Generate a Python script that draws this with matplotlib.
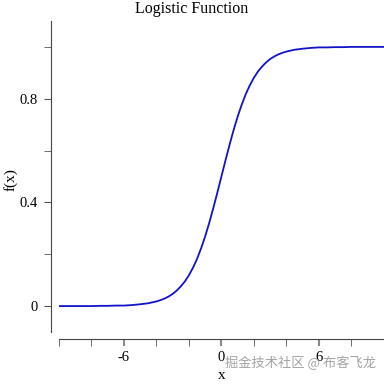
import matplotlib
matplotlib.use("Agg")
import matplotlib.pyplot as plt

# values
x_values = [-10, -9.5, -9, -8.5, -8, -7.5, -7, -6.5, -6, -5.5, -5, -4.5, -4,
            -3.75, -3.5, -3.25, -3, -2.75, -2.5, -2.25, -2, -1.75, -1.5,
            -1.25, -1, -0.75, -0.5, -0.25, 0, 0.25, 0.5, 0.75, 1, 1.25, 1.5,
            1.75, 2, 2.25, 2.5, 2.75, 3, 3.25, 3.5, 3.75, 4,
            4.5, 5, 5.5, 6, 6.5, 7, 7.5, 8, 8.5, 9, 9.5, 10]
f_values = [0.000, 0.000, 0.000, 0.000, 0.000, 0.001, 0.001, 0.002, 0.002,
            0.004, 0.007, 0.011, 0.018,
            0.023, 0.029, 0.037, 0.047, 0.060, 0.076, 0.095, 0.119, 0.148,
            0.182, 0.223, 0.269, 0.321, 0.378, 0.438, 0.500, 0.562, 0.622,
            0.679, 0.731, 0.777, 0.818, 0.852, 0.881, 0.905, 0.924, 0.940,
            0.953, 0.963, 0.971, 0.977, 0.982,
            0.989, 0.993, 0.996, 0.998, 0.998, 0.999, 0.999,
            1.000, 1.000, 1.000, 1.000, 1.000]

x_major = [-6, 0, 6]
x_minor = [-10, -8, -4, -2, 2, 4, 8, 10]
y_major = [0, 0.4, 0.8]
y_minor = [0.2, 0.6, 1.0]

plt.rcParams['font.family'] = ['Liberation Serif', 'DejaVu Serif']

fig = plt.figure(figsize=(3.84, 3.84), dpi=100)
ax = fig.add_axes([0.1536, 0.1354, 0.846, 0.81])

ax.plot(x_values, f_values, color="#1212c8", linewidth=1.3)

ax.set_xlim(-10, 10)
ax.set_ylim(-0.1, 1.1)

for side in ["top", "right"]:
    ax.spines[side].set_visible(False)
ax.spines["left"].set_position(("outward", 6))
ax.spines["bottom"].set_position(("outward", 5))
ax.spines["left"].set_color("#444444")
ax.spines["bottom"].set_color("#444444")

ax.set_xticks(x_major)
ax.set_xticklabels(["-6", "0", "6"])
ax.set_xticks(x_minor, minor=True)
ax.set_yticks(y_major)
ax.set_yticklabels(["0", "0.4", "0.8"])
ax.set_yticks(y_minor, minor=True)

ax.tick_params(which="both", direction="out", length=5, color="#555555",
               labelsize=10.5, pad=4)
ax.tick_params(axis="x", which="major", width=1.5, color="#888888")

# title is centred on the whole figure, not on the axes
fig.text(0.5, 0.955, "Logistic Function", fontsize=11.5, ha="center",
         va="bottom")
ax.set_xlabel("x", fontsize=11)
ax.xaxis.set_label_coords(0.5, -0.118)
ax.set_ylabel("f(x)", fontsize=11)
ax.yaxis.set_label_coords(-0.127, 0.49)

fig.text(0.587, 0.045, "掘金技术社区 @ 布客飞龙", fontsize=9.5, color="#999999",
         family=["Noto Sans CJK SC", "DejaVu Sans"], alpha=0.9)

plt.savefig("out.png", dpi=100)
